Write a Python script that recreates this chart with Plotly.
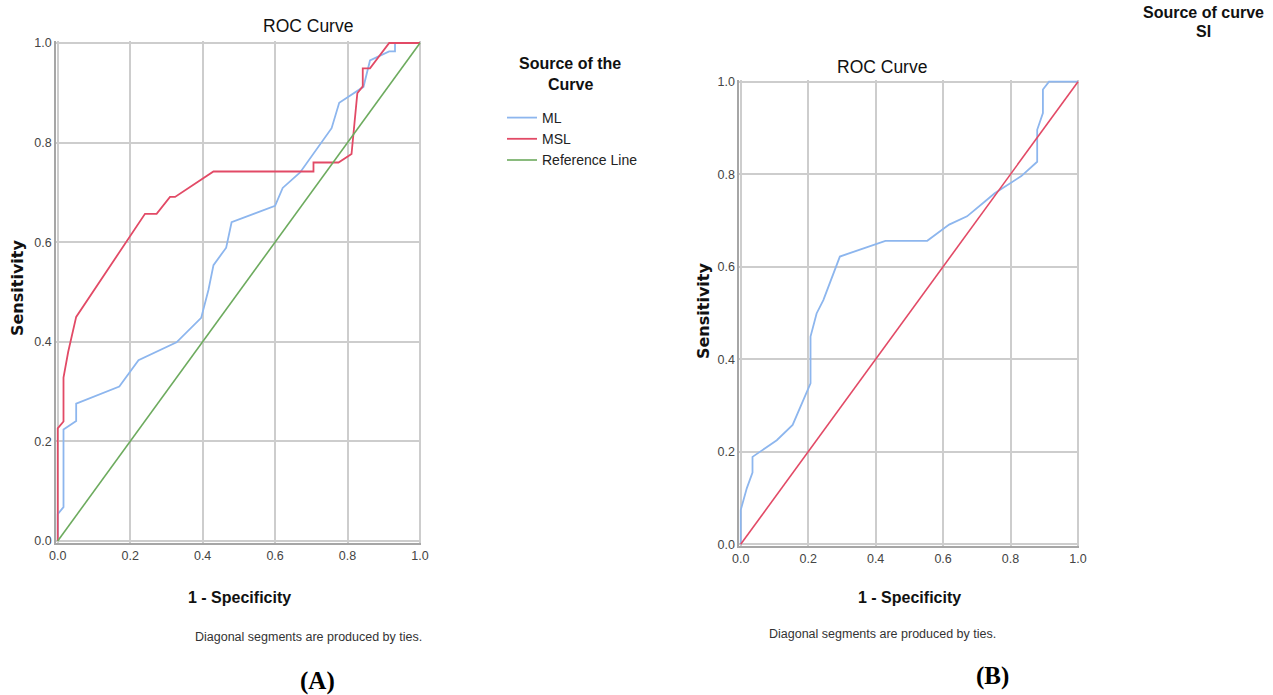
import plotly.graph_objects as go

W, H = 1273, 695

# ---------------- data ----------------
# Panel A
a_ml_x = [0.0, 0.0, 0.016, 0.016, 0.051, 0.051, 0.170, 0.223, 0.328, 0.396, 0.416, 0.430,
          0.465, 0.480, 0.600, 0.621, 0.669, 0.756, 0.777, 0.844, 0.862, 0.915, 0.931, 0.931, 1.0]
a_ml_y = [0.0, 0.054, 0.068, 0.224, 0.241, 0.276, 0.310, 0.363, 0.399, 0.448, 0.504, 0.554,
          0.589, 0.640, 0.673, 0.709, 0.740, 0.829, 0.880, 0.912, 0.965, 0.983, 0.983, 1.0, 1.0]
a_msl_x = [0.0, 0.0, 0.016, 0.016, 0.029, 0.051, 0.241, 0.273, 0.310, 0.324, 0.430, 0.706,
           0.706, 0.775, 0.811, 0.827, 0.842, 0.842, 0.862, 0.915, 1.0]
a_msl_y = [0.0, 0.226, 0.240, 0.328, 0.380, 0.450, 0.657, 0.657, 0.691, 0.691, 0.742, 0.742,
           0.760, 0.760, 0.777, 0.899, 0.913, 0.949, 0.949, 1.0, 1.0]
ref_x = [0.0, 1.0]
ref_y = [0.0, 1.0]

# Panel B
b_si_x = [0.0, 0.0, 0.018, 0.035, 0.035, 0.057, 0.107, 0.154, 0.200, 0.207, 0.207, 0.225,
          0.245, 0.294, 0.429, 0.553, 0.618, 0.671, 0.724, 0.753, 0.832, 0.879, 0.879, 0.896,
          0.896, 0.914, 1.0]
b_si_y = [0.0, 0.074, 0.121, 0.155, 0.189, 0.200, 0.225, 0.258, 0.337, 0.348, 0.449, 0.499,
          0.528, 0.622, 0.656, 0.656, 0.691, 0.709, 0.741, 0.759, 0.796, 0.827, 0.896, 0.932,
          0.983, 1.0, 1.0]

tick_vals = [0.0, 0.2, 0.4, 0.6, 0.8, 1.0]
tick_text = ["0.0", "0.2", "0.4", "0.6", "0.8", "1.0"]

# ---------------- styling ----------------
BLUE = "#8db6ee"
RED = "#e24a66"
GREEN = "#6dab5e"
GRID = "#cdcdcd"
AXIS = "#a6a6a6"
SANS = "Liberation Sans, Arial, sans-serif"
PAD = 0.004


def xdom(p0, p1):
    s = (p1 - p0)
    return [(p0 - PAD * s) / W, (p1 + PAD * s) / W]


def ydom(p0, p1):  # p0 = pixel of value 0, p1 = pixel of value 1
    s = (p0 - p1)
    return [1 - (p0 + PAD * s) / H, 1 - (p1 - PAD * s) / H]


fig = go.Figure()
fig.add_trace(go.Scatter(x=a_ml_x, y=a_ml_y, mode="lines", name="ML",
                         line=dict(color=BLUE, width=1.8), xaxis="x", yaxis="y"))
fig.add_trace(go.Scatter(x=a_msl_x, y=a_msl_y, mode="lines", name="MSL",
                         line=dict(color=RED, width=1.8), xaxis="x", yaxis="y"))
fig.add_trace(go.Scatter(x=ref_x, y=ref_y, mode="lines", name="Reference Line",
                         line=dict(color=GREEN, width=1.6), xaxis="x", yaxis="y"))
fig.add_trace(go.Scatter(x=b_si_x, y=b_si_y, mode="lines", name="SI",
                         line=dict(color=BLUE, width=1.8), xaxis="x2", yaxis="y2",
                         showlegend=False))
fig.add_trace(go.Scatter(x=ref_x, y=ref_y, mode="lines", name="Reference Line",
                         line=dict(color=RED, width=1.6), xaxis="x2", yaxis="y2",
                         showlegend=False))

axis_common = dict(range=[-PAD, 1 + PAD], tickvals=tick_vals, ticktext=tick_text,
                   showgrid=True, gridcolor=GRID, gridwidth=1.5, zeroline=False,
                   showline=True, linecolor=AXIS, linewidth=2, ticks="",
                   tickfont=dict(family=SANS, size=12.5, color="#444444"), fixedrange=True)

fig.update_layout(
    width=W, height=H,
    margin=dict(l=0, r=0, t=0, b=0, autoexpand=False),
    paper_bgcolor="white", plot_bgcolor="white",
    xaxis=dict(domain=xdom(57.7, 420.0), anchor="y", **axis_common),
    yaxis=dict(domain=ydom(541.0, 43.0), anchor="x", **axis_common),
    xaxis2=dict(domain=xdom(740.7, 1078.0), anchor="y2", **axis_common),
    yaxis2=dict(domain=ydom(544.3, 81.7), anchor="x2", **axis_common),
    showlegend=True,
    legend=dict(x=502 / W, y=1 - 102 / H, xanchor="left", yanchor="top",
                font=dict(family=SANS, size=14, color="#222222"),
                bgcolor="rgba(0,0,0,0)", tracegroupgap=0, itemwidth=30),
)


def ann(text, px, py, size, family=SANS, color="#111111", bold=False, angle=0):
    t = f"<b>{text}</b>" if bold else text
    fig.add_annotation(text=t, x=px / W, y=1 - py / H, xref="paper", yref="paper",
                       xanchor="center", yanchor="middle", showarrow=False,
                       textangle=angle, font=dict(family=family, size=size, color=color))


# Panel A texts
ann("ROC Curve", 308, 26, 17.5)
ann("Sensitivity", 17, 288, 16, family="DejaVu Sans", bold=True, angle=-90)
ann("1 - Specificity", 239, 597, 16, bold=True)
ann("Diagonal segments are produced by ties.", 308, 637, 12.5, color="#333333")
ann("(A)", 317, 681, 25, family="Liberation Serif", bold=True, color="#000000")
ann("Source of the", 570, 63, 16, bold=True)
ann("Curve", 570, 84, 16, bold=True)

# Panel B texts
ann("ROC Curve", 882, 67, 17.5)
ann("Sensitivity", 703, 311, 16, family="DejaVu Sans", bold=True, angle=-90)
ann("1 - Specificity", 909, 597, 16, bold=True)
ann("Diagonal segments are produced by ties.", 882, 634, 12.5, color="#333333")
ann("(B)", 992, 676, 25, family="Liberation Serif", bold=True, color="#000000")
ann("Source of curve", 1203, 13, 16, bold=True)
ann("SI", 1203, 32, 16, bold=True)

fig.write_html("out.html", config={"displayModeBar": False},
               post_script="document.body.style.margin='0px';")
